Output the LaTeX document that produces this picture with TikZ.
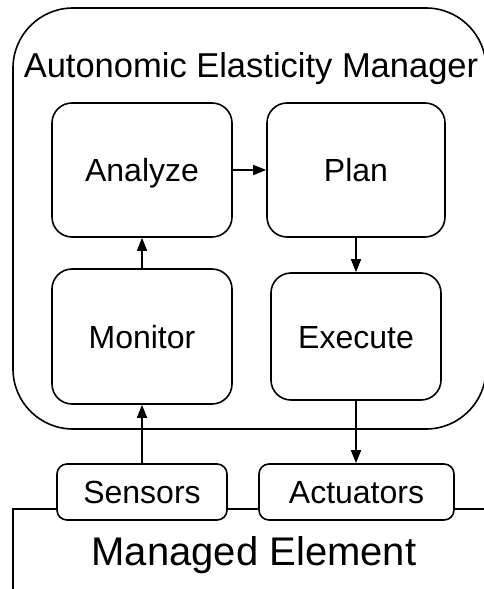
\documentclass[tikz,border=0pt]{standalone}
\usepackage{fontspec}
\setmainfont{Liberation Sans}
\usetikzlibrary{arrows.meta}
\begin{document}
\begin{tikzpicture}[x=1pt,y=-1pt,
  ln/.style={line width=1.6pt},
  box/.style={draw, ln, rounded corners=20pt, inner sep=0pt,
    font=\fontsize{32}{36}\selectfont, text height=23pt, text depth=0pt},
  smallbox/.style={box, rounded corners=10pt, minimum height=56pt},
  arr/.style={ln, -{Triangle[length=13pt,width=10pt]}},
  title/.style={inner sep=0pt, text depth=0pt}]
\useasboundingbox (0,0) rectangle (484,589);
\clip (0,0) rectangle (484,589);
\fill[white] (0,0) rectangle (484,589);
% container
\node[draw, ln, rounded corners=60pt, minimum width=473pt, minimum height=421pt, inner sep=0pt] (aem) at (249.5,218.5) {};
\node[title, font=\fontsize{34.5}{40}\selectfont, text height=24.7pt] (aemt) at (251,65) {Autonomic Elasticity Manager};
% MAPE boxes
\node[box, minimum width=180pt, minimum height=134pt] (analyze) at (142,170) {Analyze};
\node[box, minimum width=178pt, minimum height=134pt] (plan) at (356,170) {Plan};
\node[box, minimum width=180pt, minimum height=135pt] (monitor) at (142,336.5) {Monitor};
\node[box, minimum width=170pt, minimum height=127pt] (execute) at (356,336.5) {Execute};
% sensors / actuators
\node[smallbox, minimum width=170pt] (sensors) at (142,492) {Sensors};
\node[smallbox, minimum width=195pt] (actuators) at (356.5,492) {Actuators};
% managed element
\node[title, font=\fontsize{40}{46}\selectfont, text height=28.6pt] (me) at (254,551) {Managed Element};
\coordinate (mlB) at (13,600);
\coordinate (mlL) at (13,509);
\coordinate (mlR) at (495,509);
\draw[ln] (mlB) -- (mlL) -- (mlL -| sensors.west);
\draw[ln] (mlL -| sensors.east) -- (mlL -| actuators.west);
\draw[ln] (mlL -| actuators.east) -- (mlR);
% connectors
\draw[arr] (analyze) -- (plan);
\draw[arr] (monitor) -- (analyze);
\draw[arr] (plan) -- (execute);
\draw[arr] (sensors) -- (monitor);
\draw[arr] (execute.south) -- (execute.south |- actuators.north);
\end{tikzpicture}
\end{document}
